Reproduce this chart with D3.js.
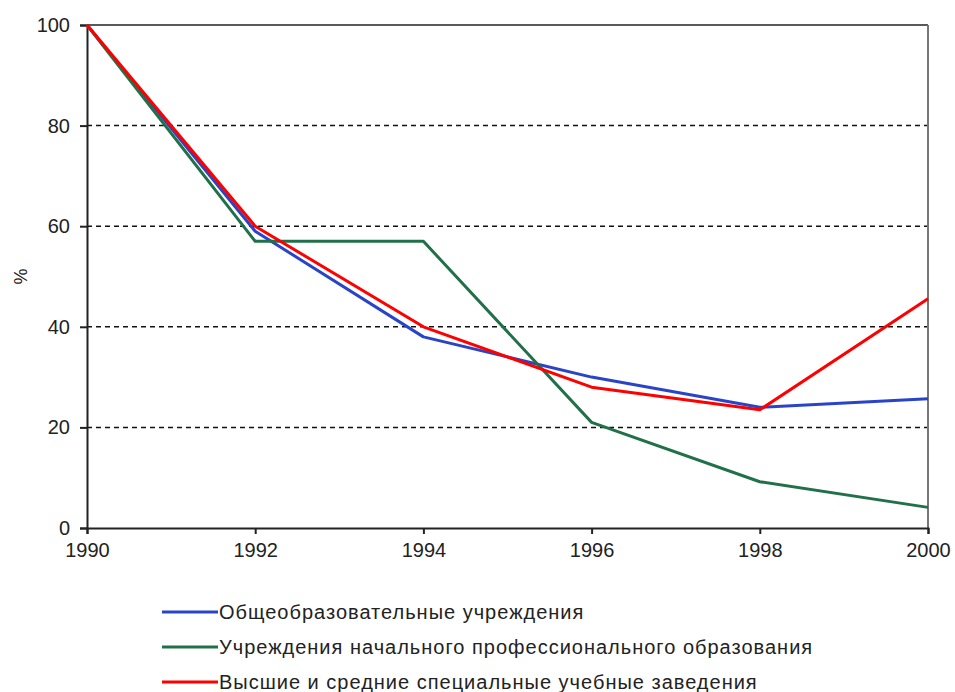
<!DOCTYPE html>
<html>
<head>
<meta charset="utf-8">
<script src="https://cdnjs.cloudflare.com/ajax/libs/d3/7.8.5/d3.min.js"></script>
<style>
  body { margin: 0; background: #fff; }
  svg { font-family: "Liberation Sans", Arial, sans-serif; }
</style>
</head>
<body>
<div id="chart"></div>
<script>
var years = [1990, 1992, 1994, 1996, 1998, 2000];
var general = [100, 59, 38, 30, 24, 25.7];
var vocational = [100, 57, 57, 21, 9.2, 4.1];
var higher = [100, 60, 40, 28, 23.5, 45.6];
var yTicks = [0, 20, 40, 60, 80, 100];
var seriesNames = [
  "Общеобразовательные учреждения",
  "Учреждения начального профессионального образования",
  "Высшие и средние специальные учебные заведения"
];
var seriesColors = ["#2a44c8", "#21704a", "#ff0000"];

var margin = { left: 87, right: 27, top: 25, bottom: 164 };
var W = 955, H = 692;
var width = W - margin.left - margin.right;
var height = H - margin.top - margin.bottom;
var FONT = "'Liberation Sans', Arial, sans-serif";

var svg = d3.select("#chart").append("svg")
  .attr("width", W)
  .attr("height", H);

var g = svg.append("g")
  .attr("transform", "translate(" + margin.left + "," + margin.top + ")");

var x = d3.scaleLinear().domain([1990, 2000]).range([0, width]);
var y = d3.scaleLinear().domain([0, 100]).range([height, 0]);

// dashed grid
g.selectAll(".grid")
  .data(yTicks.filter(function (d) { return d > 0 && d < 100; }))
  .enter().append("line")
  .attr("x1", 0).attr("x2", width)
  .attr("y1", function (d) { return y(d); })
  .attr("y2", function (d) { return y(d); })
  .attr("stroke", "#111")
  .attr("stroke-width", 1.5)
  .attr("stroke-dasharray", "5,4");

// plot border (top & right)
g.append("line").attr("x1", 0).attr("x2", width).attr("y1", 0).attr("y2", 0)
  .attr("stroke", "#222").attr("stroke-width", 1.5);
g.append("line").attr("x1", width).attr("x2", width).attr("y1", 0).attr("y2", height)
  .attr("stroke", "#777").attr("stroke-width", 2);

// axes
var yAxis = d3.axisLeft(y).tickValues(yTicks).tickSize(7).tickPadding(10);
var gy = g.append("g").call(yAxis)
  .attr("font-family", FONT).attr("font-size", 20);
gy.select(".domain").attr("stroke-width", 2).attr("stroke", "#222");
gy.selectAll(".tick line").attr("stroke-width", 2).attr("stroke", "#222");
gy.selectAll("text").attr("fill", "#222");

var xAxis = d3.axisBottom(x).tickValues(years).tickSize(6).tickPadding(9)
  .tickFormat(d3.format("d"));
var gx = g.append("g").attr("transform", "translate(0," + height + ")").call(xAxis)
  .attr("font-family", FONT).attr("font-size", 20);
gx.select(".domain").attr("stroke-width", 2).attr("stroke", "#222");
gx.selectAll(".tick line").attr("stroke-width", 2).attr("stroke", "#222");
gx.selectAll("text").attr("fill", "#222");

// y label
g.append("text")
  .attr("transform", "rotate(-90)")
  .attr("x", -(y(50)))
  .attr("y", -60)
  .attr("text-anchor", "middle")
  .attr("font-size", "18px")
  .attr("fill", "#222")
  .text("%");

var line = d3.line()
  .x(function (d, i) { return x(years[i]); })
  .y(function (d) { return y(d); });

[general, vocational, higher].forEach(function (s, i) {
  g.append("path")
    .datum(s)
    .attr("fill", "none")
    .attr("stroke", seriesColors[i])
    .attr("stroke-width", 3)
    .attr("stroke-linejoin", "round")
    .attr("d", line);
});

// legend
var legend = svg.append("g").attr("transform", "translate(162,612)");
seriesNames.forEach(function (name, i) {
  var row = legend.append("g").attr("transform", "translate(0," + (i * 35) + ")");
  row.append("line")
    .attr("x1", 0).attr("x2", 56).attr("y1", 0).attr("y2", 0)
    .attr("stroke", seriesColors[i]).attr("stroke-width", 3);
  row.append("text")
    .attr("x", 57).attr("y", 7)
    .attr("font-size", "20px")
    .attr("letter-spacing", "1px")
    .attr("fill", "#222")
    .text(name);
});
</script>
</body>
</html>
